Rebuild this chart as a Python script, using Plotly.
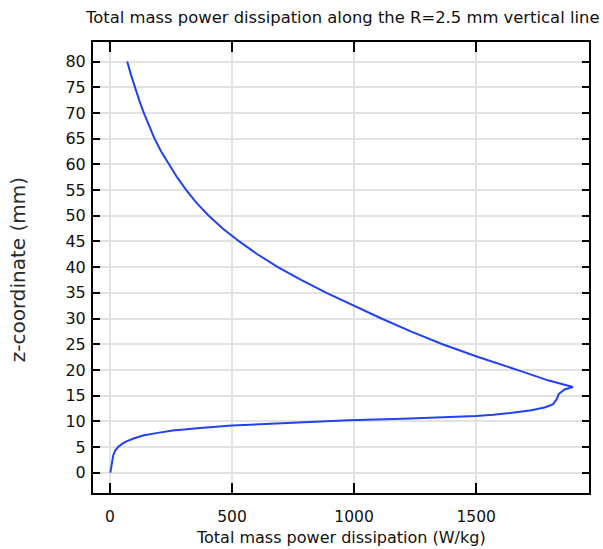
import plotly.graph_objects as go

# Path along the line from z=0 upward (lower branch -> peak -> upper branch)
power_wkg = [2, 5, 7, 10, 14, 22, 34, 50, 68, 100, 136, 190, 258, 370, 500, 750, 978,
             1200, 1340, 1430, 1500, 1570, 1640, 1726, 1780, 1814, 1830, 1838, 1862, 1896,
             1794, 1668, 1508, 1362, 1232, 1112, 997, 887, 783, 688, 604, 530,
             462, 405, 355, 313, 275, 242, 210, 183, 160, 139, 120, 102, 86, 71]
z_mm = [0, 0.7, 1.4, 2.5, 3.4, 4.3, 5.0, 5.6, 6.1, 6.7, 7.25, 7.7, 8.2, 8.7, 9.2, 9.7, 10.2,
        10.5, 10.72, 10.9, 11.05, 11.28, 11.6, 12.15, 12.7, 13.3, 14.3, 15.3, 16.2, 16.67,
        17.97, 20.0, 22.5, 25.0, 27.5, 30.0, 32.5, 35.0, 37.5, 40.0, 42.5, 45.0,
        47.5, 50.0, 52.5, 55.0, 57.5, 60.0, 62.5, 65.0, 67.5, 70.0, 72.5, 75.0, 77.5, 80.0]

x_ticks = [0, 500, 1000, 1500]
y_ticks = list(range(0, 81, 5))

title_text = "Total mass power dissipation along the R=2.5 mm vertical line"
x_title = "Total mass power dissipation (W/kg)"
y_title = "z-coordinate (mm)"

FONT = "DejaVu Sans"

fig = go.Figure()
fig.add_trace(go.Scatter(x=power_wkg, y=z_mm, mode="lines",
                         line=dict(color="#2142ee", width=2), showlegend=False))

axis_common = dict(showline=True, linecolor="black", linewidth=2, mirror="allticks",
                   ticks="inside", tickcolor="black", tickwidth=2,
                   showgrid=True, gridcolor="#e2e2e2", gridwidth=1.5, zeroline=False)

fig.update_xaxes(range=[-69, 1962], tickvals=x_ticks, ticklen=10,
                 ticklabelstandoff=8, tickfont=dict(family=FONT, size=15.5, color="#111"),
                 **axis_common)
fig.update_yaxes(range=[-3.95, 83.8], tickvals=y_ticks, ticklen=7,
                 ticklabelstandoff=2, tickfont=dict(family=FONT, size=16, color="#111"),
                 **axis_common)

plot_w = 603 - 93 - 12
plot_h = 549 - 42 - 56

fig.update_layout(
    width=603, height=549,
    margin=dict(l=93, r=12, t=42, b=56),
    plot_bgcolor="white", paper_bgcolor="white",
    annotations=[
        dict(text=title_text, x=(344 - 93) / plot_w, y=(493 - 18) / plot_h,
             xref="paper", yref="paper", showarrow=False,
             xanchor="center", yanchor="middle",
             font=dict(family=FONT, size=16.4, color="#111")),
        dict(text=x_title, x=(342 - 93) / plot_w, y=(493 - 537) / plot_h,
             xref="paper", yref="paper", showarrow=False,
             xanchor="center", yanchor="middle",
             font=dict(family=FONT, size=16, color="#111")),
        dict(text=y_title, x=(18 - 93) / plot_w, y=(493 - 270) / plot_h,
             xref="paper", yref="paper", showarrow=False, textangle=-90,
             xanchor="center", yanchor="middle",
             font=dict(family=FONT, size=20, color="#2a2a2a")),
    ],
)

fig.write_html("out.html")
